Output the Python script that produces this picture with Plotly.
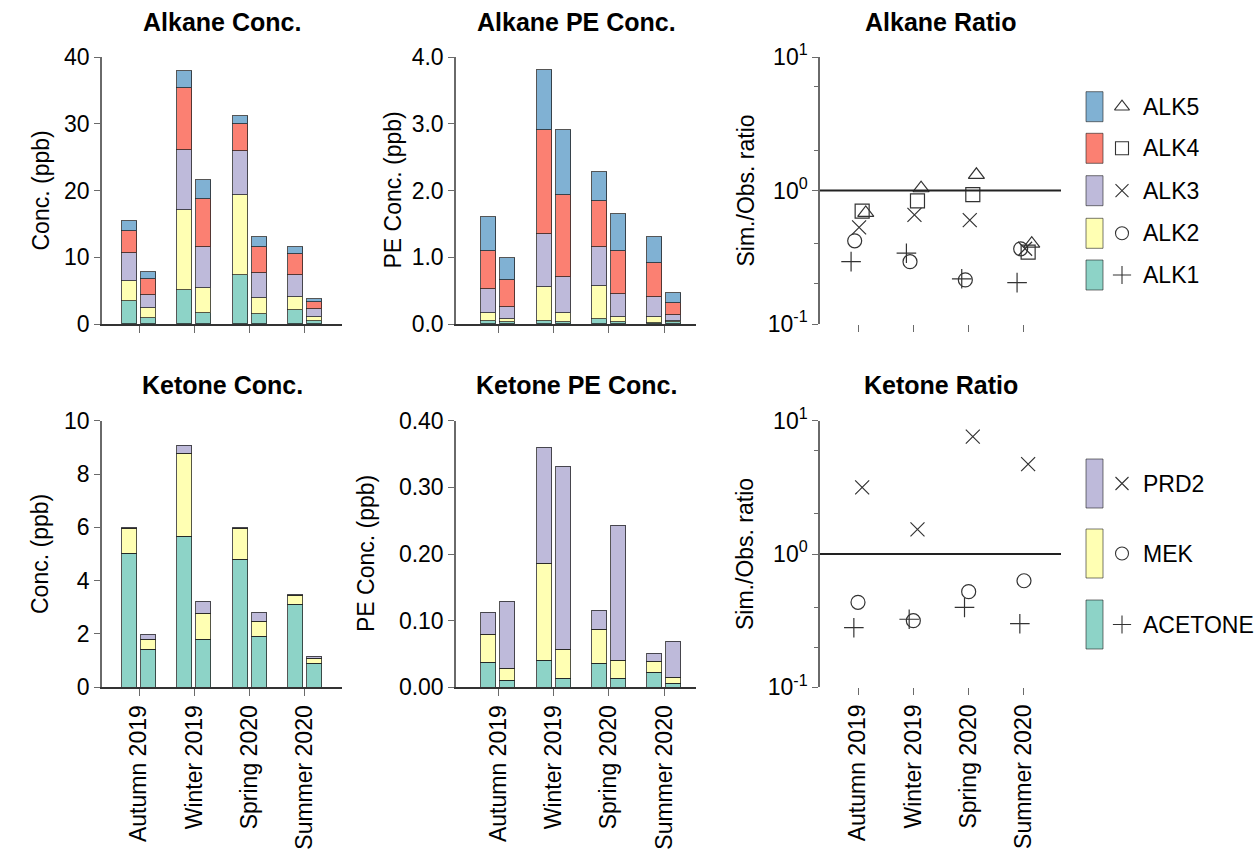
import plotly.graph_objects as go

W, H = 1257, 849

seasons = ["Autumn 2019", "Winter 2019", "Spring 2020", "Summer 2020"]

alk_species = ["ALK1", "ALK2", "ALK3", "ALK4", "ALK5"]
alk_colors = ["#8DD3C7", "#FFFFB3", "#BEBADA", "#FB8072", "#80B1D3"]
alk_symbols = ["cross-thin-open", "circle-open", "x-thin-open", "square-open", "triangle-up-open"]

# Alkane concentration (ppb), stacked components, per season
alk_conc_obs = {
    "ALK1": [3.4, 5.1, 7.4, 2.05],
    "ALK2": [3.1, 12.0, 11.9, 1.95],
    "ALK3": [4.1, 9.0, 6.6, 3.4],
    "ALK4": [3.4, 9.3, 4.1, 3.1],
    "ALK5": [1.5, 2.5, 1.2, 1.1],
}
alk_conc_sim = {
    "ALK1": [0.9, 1.65, 1.5, 0.5],
    "ALK2": [1.45, 3.75, 2.4, 0.6],
    "ALK3": [1.95, 6.1, 3.8, 1.15],
    "ALK4": [2.5, 7.3, 3.8, 1.1],
    "ALK5": [1.0, 2.8, 1.6, 0.45],
}
# Alkane propylene-equivalent concentration (ppb)
alk_pe_obs = {
    "ALK1": [0.05, 0.05, 0.075, 0.015],
    "ALK2": [0.12, 0.50, 0.495, 0.085],
    "ALK3": [0.35, 0.80, 0.58, 0.30],
    "ALK4": [0.58, 1.56, 0.69, 0.52],
    "ALK5": [0.50, 0.90, 0.43, 0.38],
}
alk_pe_sim = {
    "ALK1": [0.025, 0.025, 0.025, 0.025],
    "ALK2": [0.05, 0.145, 0.085, 0.025],
    "ALK3": [0.175, 0.54, 0.34, 0.08],
    "ALK4": [0.41, 1.22, 0.64, 0.18],
    "ALK5": [0.33, 0.98, 0.56, 0.15],
}
# Alkane Sim./Obs. ratio
alk_ratio = {
    "ALK1": [0.293, 0.339, 0.218, 0.204],
    "ALK2": [0.42, 0.293, 0.214, 0.366],
    "ALK3": [0.53, 0.657, 0.60, 0.366],
    "ALK4": [0.70, 0.837, 0.93, 0.345],
    "ALK5": [0.68, 1.04, 1.31, 0.40],
}

ket_species = ["ACETONE", "MEK", "PRD2"]
ket_colors = ["#8DD3C7", "#FFFFB3", "#BEBADA"]
ket_symbols = ["cross-thin-open", "circle-open", "x-thin-open"]

ket_conc_obs = {
    "ACETONE": [5.0, 5.65, 4.8, 3.09],
    "MEK": [0.94, 3.13, 1.14, 0.36],
    "PRD2": [0.06, 0.27, 0.04, 0.03],
}
ket_conc_sim = {
    "ACETONE": [1.4, 1.8, 1.88, 0.875],
    "MEK": [0.4, 0.95, 0.57, 0.185],
    "PRD2": [0.18, 0.46, 0.36, 0.10],
}
ket_pe_obs = {
    "ACETONE": [0.0365, 0.0405, 0.035, 0.022],
    "MEK": [0.042, 0.1445, 0.052, 0.0165],
    "PRD2": [0.034, 0.175, 0.028, 0.012],
}
ket_pe_sim = {
    "ACETONE": [0.010, 0.0125, 0.0135, 0.006],
    "MEK": [0.0185, 0.0445, 0.0265, 0.009],
    "PRD2": [0.1005, 0.2745, 0.2025, 0.054],
}
ket_ratio = {
    "ACETONE": [0.28, 0.324, 0.398, 0.30],
    "MEK": [0.434, 0.316, 0.522, 0.63],
    "PRD2": [3.16, 1.53, 7.59, 4.72],
}

# ---------------- layout geometry (pixels) ----------------
FONT = "Liberation Sans, Arial, Helvetica, sans-serif"
cols = [(102, 342), (456, 696), (820, 1061)]
rows = [(57, 324), (420.7, 687.3)]
first_tick = [139, 498.3, 858]
spacing = 55.33
BAR_W = 0.27
BAR_OFF = 0.17
alk_off = [-0.125, -0.06, 0.02, 0.075, 0.14]
ket_off = [-0.075, 0.0, 0.075]

def xr(c):
    x0, x1 = cols[c]
    lo = -(first_tick[c] - x0) / spacing
    return [lo, lo + (x1 - x0) / spacing]

def xdom(c):
    return [cols[c][0] / W, cols[c][1] / W]

def ydom(r):
    return [1 - rows[r][1] / H, 1 - rows[r][0] / H]

fig = go.Figure()
idx = list(range(len(seasons)))

def add_bars(n, species, colors, obs, sim):
    xa = "x" if n == 1 else f"x{n}"
    ya = "y" if n == 1 else f"y{n}"
    for sp, col in zip(species, colors):
        xs = [i - BAR_OFF for i in idx] + [i + BAR_OFF for i in idx]
        ys = obs[sp] + sim[sp]
        fig.add_trace(go.Bar(
            x=xs, y=ys, width=BAR_W, xaxis=xa, yaxis=ya, name=sp,
            marker=dict(color=col, line=dict(color="rgba(30,30,30,0.75)", width=1)),
            showlegend=False))

def add_ratio(n, species, symbols, offs, ratio):
    xa = f"x{n}"
    ya = f"y{n}"
    for sp, sym, o in zip(species, symbols, offs):
        fig.add_trace(go.Scatter(
            x=[i + o for i in idx], y=ratio[sp], mode="markers", xaxis=xa, yaxis=ya,
            name=sp, showlegend=False,
            marker=dict(symbol=sym, size=14, color="#333", line=dict(color="#333", width=1.2))))

add_bars(1, alk_species, alk_colors, alk_conc_obs, alk_conc_sim)
add_bars(2, alk_species, alk_colors, alk_pe_obs, alk_pe_sim)
add_ratio(3, alk_species, alk_symbols, alk_off, alk_ratio)
add_bars(4, ket_species, ket_colors, ket_conc_obs, ket_conc_sim)
add_bars(5, ket_species, ket_colors, ket_pe_obs, ket_pe_sim)
add_ratio(6, ket_species, ket_symbols, ket_off, ket_ratio)

# ---------------- axes ----------------
tickfont = dict(family=FONT, size=23, color="#000")
AX_GRAY = "#6a6a6a"

def xaxis_def(c, r, bar):
    d = dict(domain=xdom(c), range=xr(c), tickvals=idx, ticktext=seasons,
             ticks="outside", ticklen=7,
             tickcolor=AX_GRAY, tickwidth=1.3, showgrid=False, zeroline=False,
             tickfont=tickfont, fixedrange=True, automargin=False)
    if bar:
        d.update(showline=True, linecolor="#333", linewidth=1.5)
    else:
        d.update(showline=False)
    if r == 1:
        d.update(tickangle=-90, showticklabels=True)
    else:
        d.update(showticklabels=False)
    return d

def yaxis_bar(r, rng, dtick, fmt):
    return dict(domain=ydom(r), range=rng, dtick=dtick, tick0=0, tickformat=fmt,
                ticks="outside", ticklen=6, tickcolor=AX_GRAY, tickwidth=1.3,
                showline=True, linecolor=AX_GRAY, linewidth=1.5, automargin=False,
                showgrid=False, zeroline=False, tickfont=tickfont, fixedrange=True)

def yaxis_log(r):
    return dict(domain=ydom(r), type="log", range=[-1, 1],
                tickvals=[0.1, 1, 10],
                ticktext=["10<sup>-1</sup>", "10<sup>0</sup>", "10<sup>1</sup>"],
                ticks="outside", ticklen=6, tickcolor=AX_GRAY, tickwidth=1.3,
                minor=dict(tickvals=[0.2, 0.4, 2, 6], ticks="outside", ticklen=4,
                           tickcolor=AX_GRAY, tickwidth=1.2, showgrid=False),
                showline=True, linecolor=AX_GRAY, linewidth=1.5, automargin=False,
                showgrid=False, zeroline=False, tickfont=tickfont, fixedrange=True)

layout = dict(
    width=W, height=H, margin=dict(l=0, r=0, t=0, b=0, pad=0, autoexpand=False),
    paper_bgcolor="white", plot_bgcolor="rgba(0,0,0,0)", barmode="stack", bargap=0,
    showlegend=False, font=dict(family=FONT, size=23, color="#000"),
)
layout["xaxis"] = dict(xaxis_def(0, 0, True), anchor="y")
layout["yaxis"] = dict(yaxis_bar(0, [0, 40], 10, "d"), anchor="x")
layout["xaxis2"] = dict(xaxis_def(1, 0, True), anchor="y2")
layout["yaxis2"] = dict(yaxis_bar(0, [0, 4.0], 1.0, ".1f"), anchor="x2")
layout["xaxis3"] = dict(xaxis_def(2, 0, False), anchor="y3")
layout["yaxis3"] = dict(yaxis_log(0), anchor="x3")
layout["xaxis4"] = dict(xaxis_def(0, 1, True), anchor="y4")
layout["yaxis4"] = dict(yaxis_bar(1, [0, 10], 2, "d"), anchor="x4")
layout["xaxis5"] = dict(xaxis_def(1, 1, True), anchor="y5")
layout["yaxis5"] = dict(yaxis_bar(1, [0, 0.40], 0.10, ".2f"), anchor="x5")
layout["xaxis6"] = dict(xaxis_def(2, 1, False), anchor="y6")
layout["yaxis6"] = dict(yaxis_log(1), anchor="x6")
# overlay axis for legend glyphs (pixel space)
layout["xaxis7"] = dict(domain=[0, 1], range=[0, W], visible=False, anchor="y7",
                        fixedrange=True, automargin=False)
layout["yaxis7"] = dict(domain=[0, 1], range=[H, 0], visible=False, anchor="x7",
                        fixedrange=True, automargin=False)
fig.update_layout(**layout)

# ratio reference lines at 1
shapes = []
for n in (3, 6):
    shapes.append(dict(type="line", xref=f"x{n} domain", yref=f"y{n}", x0=0, x1=1, y0=1, y1=1,
                       line=dict(color="#222", width=2)))

annotations = []
titles = [["Alkane Conc.", "Alkane PE Conc.", "Alkane Ratio"],
          ["Ketone Conc.", "Ketone PE Conc.", "Ketone Ratio"]]
ytitles = ["Conc. (ppb)", "PE Conc. (ppb)", "Sim./Obs. ratio"]
ytitle_x = [[40, 392, 745], [40, 366, 745]]
title_y = [22, 385]
for r in range(2):
    for c in range(3):
        annotations.append(dict(
            text=f"<b>{titles[r][c]}</b>", xref="paper", yref="paper",
            x=(cols[c][0] + cols[c][1]) / 2 / W, y=1 - title_y[r] / H,
            xanchor="center", yanchor="middle", showarrow=False,
            font=dict(family=FONT, size=25, color="#000")))
        annotations.append(dict(
            text=ytitles[c], xref="paper", yref="paper", textangle=-90,
            x=ytitle_x[r][c] / W, y=1 - (rows[r][0] + rows[r][1]) / 2 / H,
            xanchor="center", yanchor="middle", showarrow=False,
            font=dict(family=FONT, size=23, color="#000")))

# legends
def add_legend(species, colors, symbols, centers, rect_h):
    for sp, col, sym, cy in zip(species, colors, symbols, centers):
        shapes.append(dict(type="rect", xref="paper", yref="paper",
                           x0=1086 / W, x1=1103 / W,
                           y0=1 - (cy + rect_h / 2) / H, y1=1 - (cy - rect_h / 2) / H,
                           fillcolor=col, line=dict(color="rgba(30,30,30,0.6)", width=1)))
        fig.add_trace(go.Scatter(x=[1122], y=[cy], xaxis="x7", yaxis="y7", mode="markers",
                                 showlegend=False, hoverinfo="skip",
                                 marker=dict(symbol=sym, size=13, color="#333",
                                             line=dict(color="#333", width=1.1))))
        annotations.append(dict(text=sp, xref="paper", yref="paper", x=1141 / W, y=1 - cy / H,
                                xanchor="left", yanchor="middle", showarrow=False,
                                font=dict(family=FONT, size=23, color="#000")))

add_legend(alk_species[::-1], alk_colors[::-1], alk_symbols[::-1],
           [106.7, 148.3, 190.7, 233.3, 275.0], 30)
add_legend(ket_species[::-1], ket_colors[::-1], ket_symbols[::-1],
           [483.5, 553.5, 624.5], 49)

fig.update_layout(shapes=shapes, annotations=annotations)
fig.write_html("out.html", config={"displayModeBar": False},
               post_script="document.body.style.margin='0';document.body.style.overflow='hidden';")
